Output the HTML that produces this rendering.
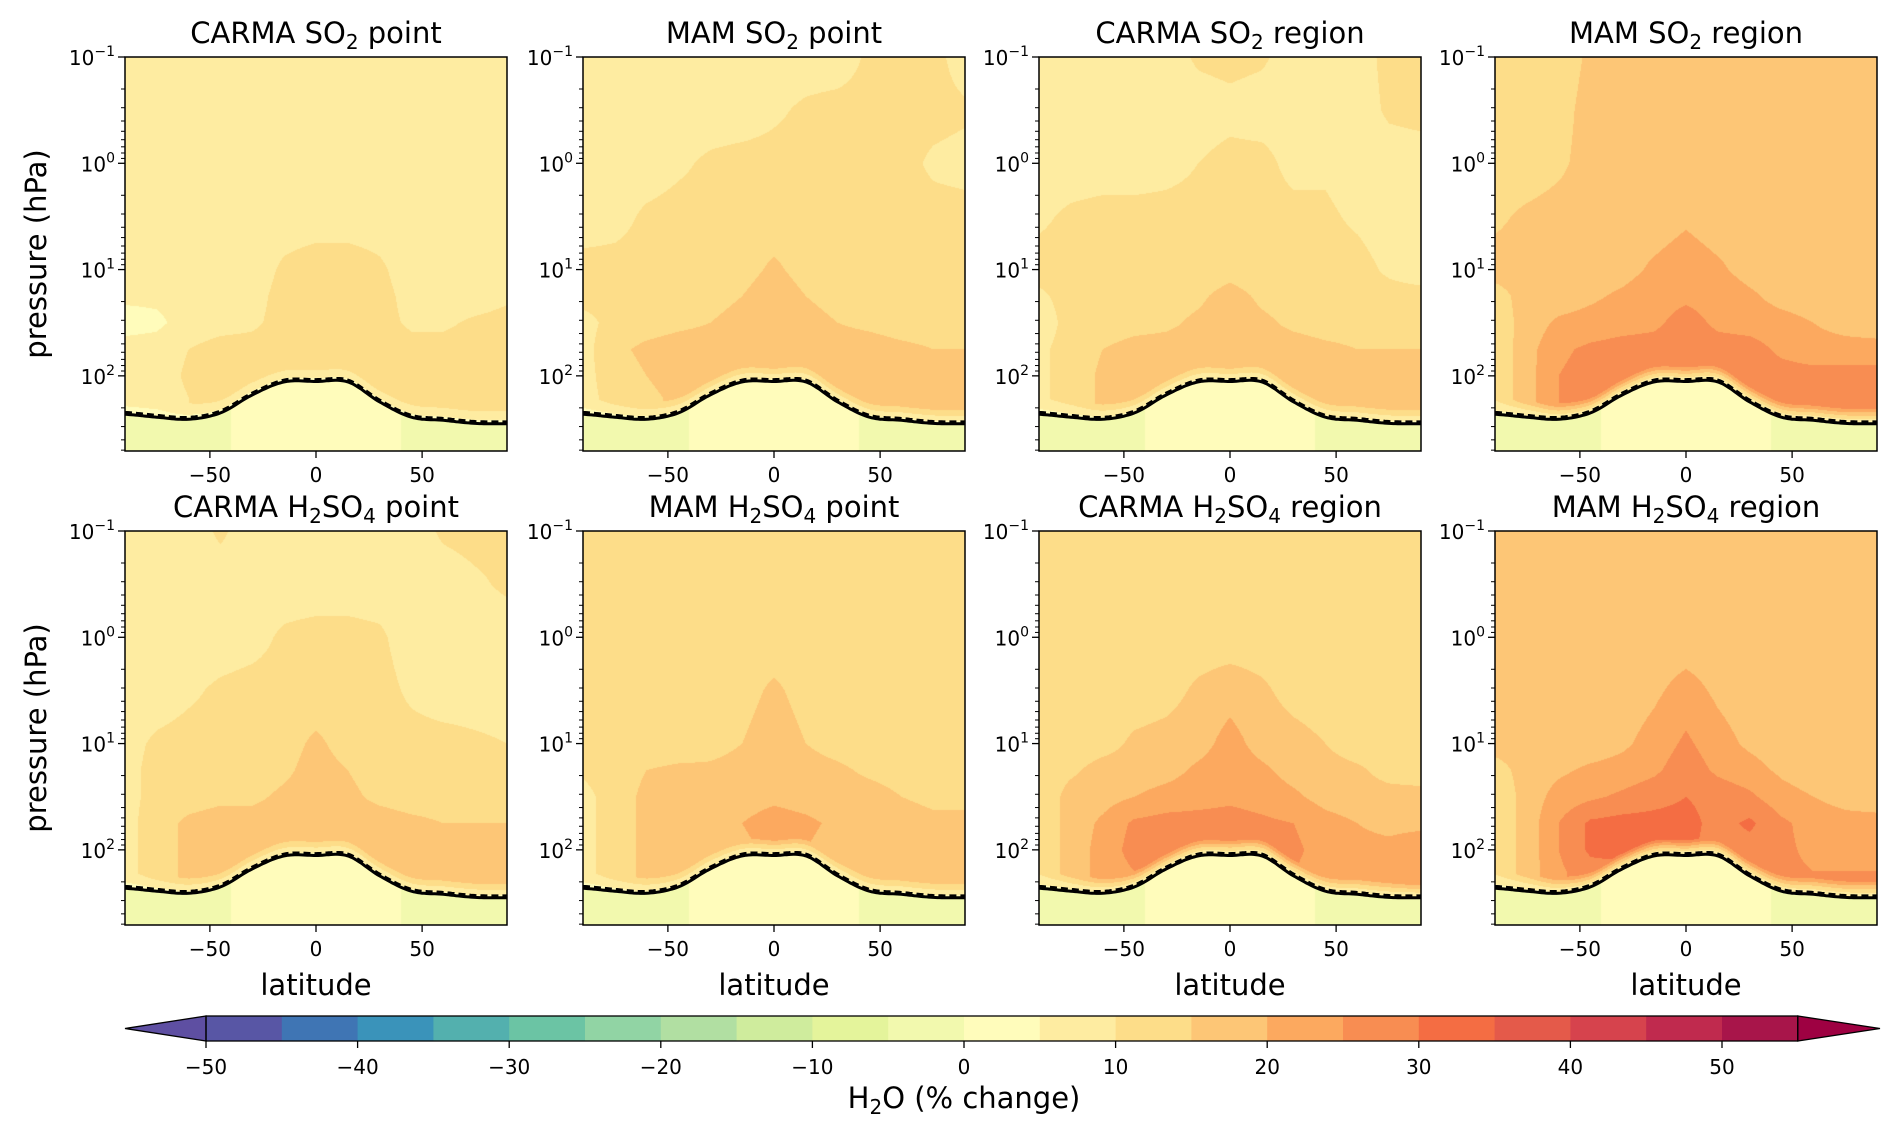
<!DOCTYPE html>
<html><head><meta charset="utf-8">
<style>
html,body{margin:0;padding:0;background:#fff;}
#wrap{position:relative;width:1892px;height:1129px;overflow:hidden;font-family:"DejaVu Sans","Liberation Sans",sans-serif;}
canvas{position:absolute;}
svg{position:absolute;left:0;top:0;font-family:"DejaVu Sans","Liberation Sans",sans-serif;}
</style></head>
<body>
<div id="wrap">
<svg id="ov" width="1892" height="1129"></svg>
</div>
<script>
// ---- data ----
const lats=[-90,-75,-60,-45,-30,-15,0,15,30,45,60,75,90];
const levels=[-1,-0.5,0,0.5,1,1.25,1.5,1.75,2,2.2]; // log10(hPa)
const tropP=[230,245,256,223,151,114,113,114,176,245,262,280,282];
const tropVals=[-2,-3,-2,-1,2,2,3,2,2,-1,-2,-2,-2];
const titles=[["CARMA SO","2"," point"],["MAM SO","2"," point"],["CARMA SO","2"," region"],["MAM SO","2"," region"],
["CARMA H","2","SO","4"," point"],["MAM H","2","SO","4"," point"],["CARMA H","2","SO","4"," region"],["MAM H","2","SO","4"," region"]];
const p1=[[7,7,7,7,7,7,7,7,7,7,7,7,7],[7,7,7,7,7,7,7,7,7,7,7,7,7],[7,7,7,7,7,7,7,7,7,7,7,7,7],[7,7,7,7,7,7,7,7,7,7,7,7,7],
[7,7,7,7,7,11,13,13,11,7,7,7,7],[6,6,7,7,8,12,13,13,12,8,7,7,9],[3,4,7,8,9,12,13,13,12,9,9,11,12],
[7,7,10,12,12,13,13,13,13,12,12,12,12],[7,7,11,12,12,13,13,13,13,12,12,12,12],[7,7,10,12,12,13,13,13,13,12,12,12,12]];
const p2=[[7,7,7,7,7,7,7,7,7,11,12,12,7],[7,7,7,7,7,7,9,11,12,12,12,12,11],[7,7,7,9,11,12,12,12,12,12,12,9,8],
[7,8,11,12,12,12,12,12,12,12,12,12,12],[12,12,12,12,12,13,16,13,12,12,12,12,12],[12,12,12,12,13,15,18,15,13,12,12,12,12],
[8,12,13,14,15,17,18,17,15,14,13,13,13],[8,14,16,17,17,17,18,17,17,17,16,15,15],[8,13,15,17,17,17,18,17,17,17,17,17,17],
[8,12,14,16,17,17,17,17,17,17,17,17,17]];
const p3=[[7,7,7,7,7,11,12,11,7,7,7,12,12],[7,7,7,7,7,7,8,7,7,7,7,11,12],[7,7,7,7,8,10,12,12,8,9,7,7,7],
[9,11,12,12,12,12,12,12,12,11,9,7,7],[12,12,12,12,12,12,13,12,12,12,12,9,7],[9,12,12,12,13,14,17,14,13,12,12,12,12],
[7,12,12,13,14,16,18,16,14,13,13,13,13],[9,12,15,17,17,17,18,17,17,16,15,15,15],[9,12,16,17,17,17,18,17,17,17,17,17,17],
[9,12,16,17,17,17,17,17,17,17,17,17,17]];
const p4=[[12,12,12,16,17,17,17,17,17,17,17,17,17],[12,12,13,17,17,17,17,17,17,17,17,17,17],[12,12,14,17,17,17,17,17,17,17,17,17,17],
[14,16,17,17,17,17,19,17,17,17,17,17,17],[17,17,17,17,18,21,23,21,18,17,17,17,17],[13,17,17,19,21,23,24,23,21,18,17,17,17],
[12,17,21,22,23,24,27,24,23,22,20,18,17],[11,18,24,26,27,27,28,27,27,24,22,22,22],[11,18,25,27,27,27,28,27,27,27,27,27,27],
[11,18,25,27,27,27,27,27,27,27,27,27,27]];
const p5=[[7,7,7,11,7,7,7,7,7,7,11,12,12],[7,7,7,7,7,7,7,7,7,7,7,9,11],[7,7,7,7,8,11,12,12,11,7,7,7,7],
[7,7,9,11,12,12,12,12,12,9,7,7,7],[8,11,12,12,12,13,16,13,12,12,12,11,10],[8,12,12,12,12,14,17,15,13,12,12,12,12],
[8,12,13,14,14,16,17,16,14,13,13,13,13],[8,13,16,17,17,17,17,17,17,16,15,15,15],[8,13,16,17,17,17,17,17,17,17,17,17,17],
[8,13,16,17,17,17,17,17,17,17,17,17,17]];
const p6=[[12,12,12,12,12,12,12,12,12,12,12,12,12],[12,12,12,12,12,12,12,12,12,12,12,12,12],[12,12,12,12,12,12,12,12,12,12,12,12,12],
[12,12,12,12,12,13,16,13,12,12,12,12,12],[12,12,12,12,13,15,18,15,13,12,12,12,12],[11,13,15,16,16,17,18,17,16,14,13,12,12],
[8,13,16,17,17,18,19,18,17,17,15,14,14],[8,13,16,17,18,20,22,21,19,17,17,16,16],[8,13,16,17,17,19,21,20,18,17,17,17,17],
[8,13,16,17,17,17,17,17,17,17,17,17,17]];
const p7=[[12,12,12,12,12,12,12,12,12,12,12,12,12],[12,12,12,12,12,12,12,12,12,12,12,12,12],[12,12,12,12,12,12,12,12,12,12,12,12,12],
[12,12,12,12,13,16,18,16,13,12,12,12,12],[12,12,13,16,17,18,22,18,17,15,12,12,12],[12,14,17,17,18,21,23,21,18,17,16,13,12],
[11,17,18,20,22,23,24,23,21,18,17,17,17],[11,17,21,26,27,27,27,26,25,22,20,18,18],[11,17,22,27,27,27,27,27,26,23,22,22,25],
[11,17,22,25,27,27,27,27,25,23,22,22,25]];
const p8=[[17,17,17,17,17,17,17,17,17,17,17,17,17],[17,17,17,17,17,17,17,17,17,17,17,17,17],[17,17,17,17,17,17,17,17,17,17,17,17,17],
[17,17,17,17,17,19,22,19,17,17,17,17,17],[17,17,17,17,19,22,26,22,19,17,17,17,17],[13,17,19,21,22,24,28,24,22,19,17,17,17],
[11,17,22,24,26,28,30,28,26,22,20,18,17],[11,17,25,31,32,32,32,28,31,26,23,22,22],[11,17,25,31,32,31,31,28,28,26,24,23,23],
[11,17,24,28,28,28,28,28,28,26,25,25,25]];
const panels=[p1,p2,p3,p4,p5,p6,p7,p8];
const cbTicks=[-50,-40,-30,-20,-10,0,10,20,30,40,50];
const binColors=["#5856a5","#3f75b4","#3a93ba","#53b0ae","#6bc4a4","#91d4a4","#b1dfa2","#cfec9d","#e4f49b","#f2f9ae",
"#fffcbb","#feeca1","#fddd89","#fdc676","#fca95f","#f88d52","#f46d43","#e45a4a","#d6434d","#c02a4e","#a8154a"];
// ---- geometry ----
const colX=[125,583,1039,1495], rowY=[57,531], PW=382, PH=394;
const LMIN=-1, LMAX=2.707;
const NS="http://www.w3.org/2000/svg";
const svg=document.getElementById('ov');
function el(tag,attrs,parent){const e=document.createElementNS(NS,tag);for(const k in attrs)e.setAttribute(k,attrs[k]);(parent||svg).appendChild(e);return e;}
function xs(lat,x0){return x0+(lat+90)/180*PW;}
function ys(lp,y0){return y0+(lp-LMIN)/(LMAX-LMIN)*PH;}
function hex(c){return [parseInt(c.substr(1,2),16),parseInt(c.substr(3,2),16),parseInt(c.substr(5,2),16)];}
const rgb=binColors.map(hex);
function colorFor(v){let i=Math.floor((v+50)/5);if(i<0)return hex("#5e4fa2");if(i>20)return hex("#9e0142");return rgb[i];}
function interpLat(arr,lat){let t=(lat+90)/15;let i=Math.min(11,Math.max(0,Math.floor(t)));let f=t-i;return arr[i]*(1-f)+arr[i+1]*f;}
function interpCR(arr,lat){let t=(lat+90)/15;let i=Math.min(11,Math.max(0,Math.floor(t)));let f=t-i;
 const n=arr.length;const p0=arr[Math.max(0,i-1)],p1=arr[i],p2=arr[i+1],p3=arr[Math.min(n-1,i+2)];
 return 0.5*((2*p1)+(-p0+p2)*f+(2*p0-5*p1+4*p2-p3)*f*f+(-p0+3*p1-3*p2+p3)*f*f*f);}
const logTropArr=tropP.map(Math.log10);
function logTrop(lat){return interpCR(logTropArr,lat);}
function gridVal(g,lat,lp){let y=Math.max(levels[0],Math.min(levels[levels.length-1],lp));let j=0;while(j<levels.length-2&&y>levels[j+1])j++;
 let f=(y-levels[j])/(levels[j+1]-levels[j]);return interpLat(g[j],lat)*(1-f)+interpLat(g[j+1],lat)*f;}

panels.forEach((g,k)=>{
 const x0=colX[k%4], y0=rowY[Math.floor(k/4)];
 const cv=document.createElement('canvas');cv.width=PW;cv.height=PH;cv.style.left=x0+'px';cv.style.top=y0+'px';
 
 
 document.getElementById('wrap').insertBefore(cv,svg);
 const ctx=cv.getContext('2d');const im=ctx.createImageData(PW,PH);
 for(let px=0;px<PW;px++){const lat=-90+(px+0.5)/PW*180;const lt=logTrop(lat);const tv=interpLat(tropVals,lat);
  for(let py=0;py<PH;py++){const lp=LMIN+(py+0.5)/PH*(LMAX-LMIN);let v;
   if(lp>lt){v=tv;}else{v=gridVal(g,lat,lp);const d=lt-lp;if(d<0.15)v=3+(v-3)*(d/0.15);}
   const c=colorFor(v);const o=(py*PW+px)*4;im.data[o]=c[0];im.data[o+1]=c[1];im.data[o+2]=c[2];im.data[o+3]=255;}}
 ctx.putImageData(im,0,0);
 let ds="",dd="";
 for(let lat=-90;lat<=90;lat+=1){const lt=logTrop(lat);ds+=(lat==-90?"M":"L")+xs(lat,x0).toFixed(1)+","+ys(lt,y0).toFixed(1);
  dd+=(lat==-90?"M":"L")+xs(lat,x0).toFixed(1)+","+ys(lt-0.02,y0).toFixed(1);}
 const t1=el('path',{d:dd,fill:'none',stroke:'#000','stroke-width':2.5,'stroke-dasharray':'7,4'});
 
 
 const t2=el('path',{d:ds,fill:'none',stroke:'#000','stroke-width':3});
 
 
 const fr=el('rect',{x:x0,y:y0,width:PW,height:PH,fill:'none',stroke:'#000','stroke-width':1.5});
 
 
 for(let e=-1;e<=2;e++){const y=ys(e,y0);el('line',{x1:x0-7,x2:x0,y1:y,y2:y,stroke:'#000','stroke-width':1.3});
  const tx=el('text',{x:x0-10,y:y+8,'text-anchor':'end','font-size':20,fill:'#000'});
  
  
  tx.appendChild(document.createTextNode('10'));const sp=el('tspan',{dy:-9,'font-size':14},tx);sp.textContent=(e<0?'\u22121':String(e));
  for(let m=2;m<=9;m++){const lp=e+Math.log10(m);if(lp<=LMAX){const yy=ys(lp,y0);el('line',{x1:x0-4,x2:x0,y1:yy,y2:yy,stroke:'#000','stroke-width':1});}}}
 [-50,0,50].forEach(v=>{const x=xs(v,x0);el('line',{x1:x,x2:x,y1:y0+PH,y2:y0+PH+7,stroke:'#000','stroke-width':1.3});
  const tx=el('text',{x:x,y:y0+PH+31,'text-anchor':'middle','font-size':20,fill:'#000'});
  
  
  tx.textContent=(v<0?'\u2212'+(-v):String(v));});
 const tt=el('text',{x:x0+PW/2,y:y0-14,'text-anchor':'middle','font-size':29,fill:'#000'});
 
 
 const parts=titles[k];parts.forEach((p,i)=>{const s=el('tspan',{},tt);s.textContent=p;
  if(i%2==1){s.setAttribute('font-size',20);s.setAttribute('dy',6);}else if(i>0){s.setAttribute('dy',-6);}});
 if(k>=4){const xl=el('text',{x:x0+PW/2,y:995,'text-anchor':'middle','font-size':29,fill:'#000'});
  
  
  xl.textContent='latitude';}
 if(k%4==0){const cy=y0+PH/2;const yl=el('text',{x:46,y:cy,'text-anchor':'middle','font-size':29,fill:'#000',transform:'rotate(-90 46 '+cy+')'});
  
  
  yl.textContent='pressure (hPa)';}
});
// ---- colorbar ----
const cbX0=206, cbUnit=15.16, cbY=1016, cbH=25;
function cx(v){return cbX0+(v+50)*cbUnit;}
binColors.forEach((c,i)=>{const r=el('rect',{x:cx(-50+5*i),y:cbY,width:5*cbUnit+0.5,height:cbH,fill:c});
 
 });
const lt=el('polygon',{points:`${cx(-50)},${cbY} 125,${cbY+cbH/2} ${cx(-50)},${cbY+cbH}`,fill:'#5e4fa2',stroke:'#000','stroke-width':1.3});


const rt=el('polygon',{points:`${cx(55)},${cbY} 1880,${cbY+cbH/2} ${cx(55)},${cbY+cbH}`,fill:'#9e0142',stroke:'#000','stroke-width':1.3});


const cbf=el('rect',{x:cx(-50),y:cbY,width:cx(55)-cx(-50),height:cbH,fill:'none',stroke:'#000','stroke-width':1.3});


cbTicks.forEach(v=>{const x=cx(v);el('line',{x1:x,x2:x,y1:cbY+cbH,y2:cbY+cbH+7,stroke:'#000','stroke-width':1.3});
 const tx=el('text',{x:x,y:cbY+cbH+33,'text-anchor':'middle','font-size':20,fill:'#000'});
 
 
 tx.textContent=(v<0?'\u2212'+(-v):String(v));});
const cl=el('text',{x:cx(0),y:1108,'text-anchor':'middle','font-size':29,fill:'#000'});


const a=el('tspan',{},cl);a.textContent='H';const b=el('tspan',{'font-size':20,dy:6},cl);b.textContent='2';const c=el('tspan',{dy:-6},cl);c.textContent='O (% change)';
</script>
</body></html>
